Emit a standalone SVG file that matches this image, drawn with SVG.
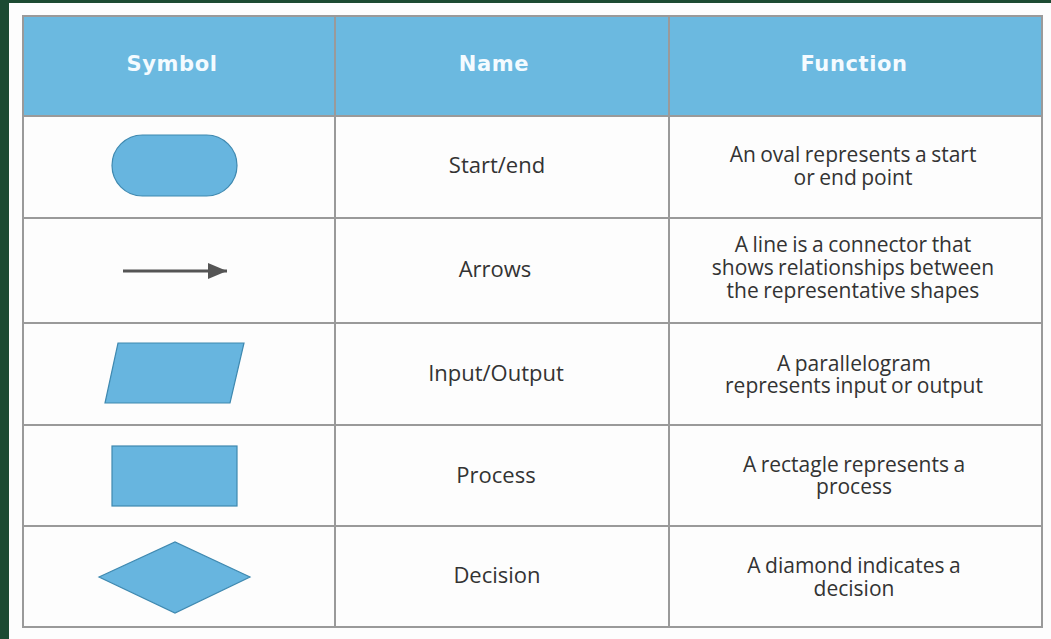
<svg xmlns="http://www.w3.org/2000/svg" width="1051" height="639" viewBox="0 0 1051 639">
<defs>
<style>
.hdr{font-family:"DejaVu Sans",sans-serif;font-weight:bold;font-size:21px;fill:#f4fbff;letter-spacing:0.6px;text-anchor:middle}
.nm{font-family:"Open Sans",sans-serif;font-size:22px;fill:#333;text-anchor:middle}
.fn{font-family:"Open Sans",sans-serif;font-size:21px;fill:#333;text-anchor:middle;word-spacing:-1px}
.grid{stroke:#9a9a9a;stroke-width:2;fill:none}
.shape{fill:#67b5df;stroke:#3f89b0;stroke-width:1.2}
</style>
<marker id="ah" viewBox="0 0 10 10" refX="10" refY="5" markerWidth="19" markerHeight="16" orient="auto" markerUnits="userSpaceOnUse" preserveAspectRatio="none">
<path d="M0,0 L10,5 L0,10 z" fill="#555"/>
</marker>
</defs>
<rect x="0" y="0" width="1051" height="639" fill="#1c4a32"/>
<rect x="9" y="3" width="1042" height="636" fill="#fdfdfd"/>
<g id="table">
<rect x="23" y="16" width="1019" height="100" fill="#6bb9e0"/>
<rect class="grid" x="23" y="16" width="1019" height="611"/>
<line class="grid" x1="335" y1="16" x2="335" y2="627"/>
<line class="grid" x1="669" y1="16" x2="669" y2="627"/>
<line class="grid" x1="23" y1="116" x2="1042" y2="116"/>
<line class="grid" x1="23" y1="218" x2="1042" y2="218"/>
<line class="grid" x1="23" y1="323" x2="1042" y2="323"/>
<line class="grid" x1="23" y1="425" x2="1042" y2="425"/>
<line class="grid" x1="23" y1="526" x2="1042" y2="526"/>
<text class="hdr" x="172" y="71">Symbol</text>
<text class="hdr" x="494" y="71">Name</text>
<text class="hdr" x="854" y="71">Function</text>
</g>
<g id="row-startend">
<rect class="shape" x="112" y="135" width="125" height="61" rx="30.5"/>
<text class="nm" x="497" y="173">Start/end</text>
<text class="fn" x="853" y="162">An oval represents a start</text>
<text class="fn" x="853" y="185">or end point</text>
</g>
<g id="row-arrows">
<text class="nm" x="495" y="277">Arrows</text>
<text class="fn" x="853" y="252">A line is a connector that</text>
<text class="fn" x="853" y="275">shows relationships between</text>
<text class="fn" x="853" y="298">the representative shapes</text>
</g>
<g id="connectors">
<line x1="123" y1="271" x2="227" y2="271" stroke="#555" stroke-width="3" marker-end="url(#ah)"/>
</g>
<g id="row-io">
<polygon class="shape" points="118,343 244,343 230,403 105,403"/>
<text class="nm" x="496" y="381">Input/Output</text>
<text class="fn" x="854" y="371">A parallelogram</text>
<text class="fn" x="854" y="393">represents input or output</text>
</g>
<g id="row-process">
<rect class="shape" x="112" y="446" width="125" height="60"/>
<text class="nm" x="496" y="483">Process</text>
<text class="fn" x="854" y="472">A rectagle represents a</text>
<text class="fn" x="854" y="494">process</text>
</g>
<g id="row-decision">
<polygon class="shape" points="99,577 175,542 250,577 175,613"/>
<text class="nm" x="497" y="583">Decision</text>
<text class="fn" x="854" y="573">A diamond indicates a</text>
<text class="fn" x="854" y="596">decision</text>
</g>
</svg>
